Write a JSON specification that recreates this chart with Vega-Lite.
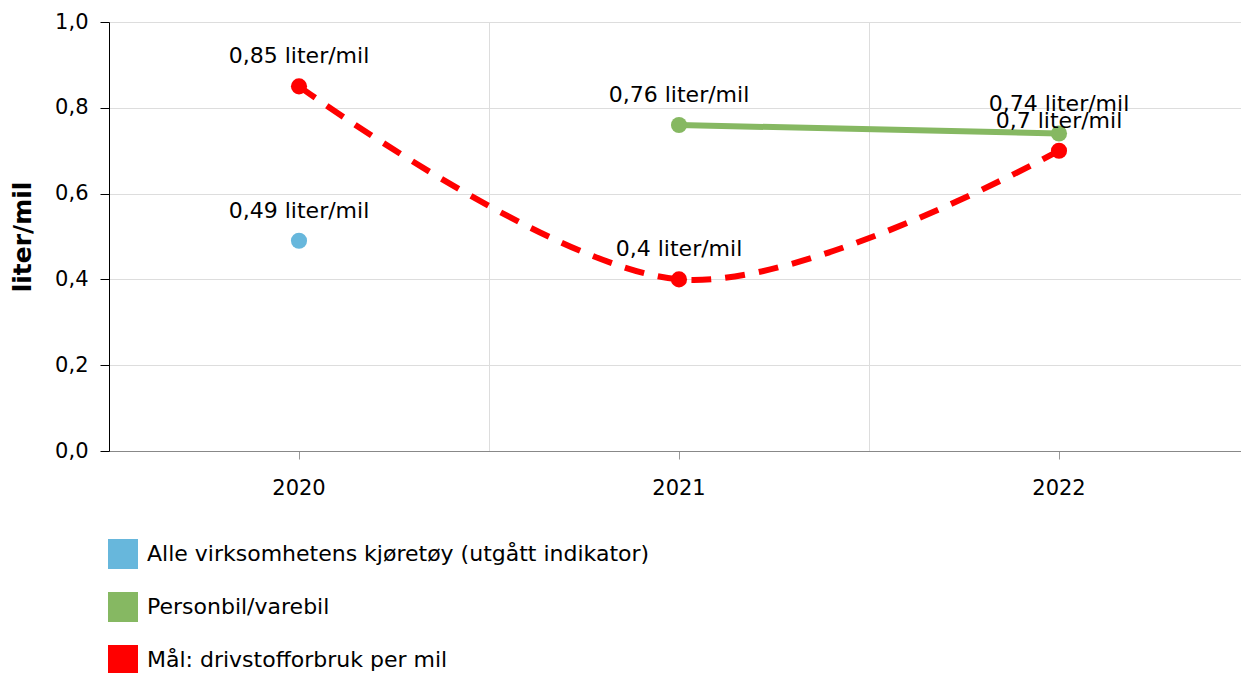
{
  "$schema": "https://vega.github.io/schema/vega-lite/v6.json",
  "width": 1132,
  "height": 429,
  "autosize": "none",
  "padding": {"left": 109, "top": 22, "right": 0, "bottom": 222},
  "background": "white",
  "config": {
    "font": "DejaVu Sans",
    "view": {"stroke": null},
    "locale": {"number": {"decimal": ",", "thousands": "\u00a0", "grouping": [3], "currency": ["", " kr"]}}
  },
  "data": {
    "values": [
      {"serie": "Alle virksomhetens kjøretøy (utgått indikator)", "year": "2020", "value": 0.49, "label": "0,49 liter/mil"},
      {"serie": "Personbil/varebil", "year": "2021", "value": 0.76, "label": "0,76 liter/mil"},
      {"serie": "Personbil/varebil", "year": "2022", "value": 0.74, "label": "0,74 liter/mil"},
      {"serie": "Mål: drivstofforbruk per mil", "year": "2020", "value": 0.85, "label": "0,85 liter/mil"},
      {"serie": "Mål: drivstofforbruk per mil", "year": "2021", "value": 0.4, "label": "0,4 liter/mil"},
      {"serie": "Mål: drivstofforbruk per mil", "year": "2022", "value": 0.7, "label": "0,7 liter/mil"}
    ]
  },
  "resolve": {"axis": {"x": "independent"}},
  "layer": [
    {
      "transform": [{"filter": "datum.serie === 'Mål: drivstofforbruk per mil'"}],
      "mark": {"type": "line", "color": "#ff0000", "strokeWidth": 6, "strokeDash": [20, 14], "interpolate": "cardinal", "tension": 0},
      "encoding": {
        "x": {"field": "year", "type": "ordinal", "scale": {"type": "band", "domain": ["2020", "2021", "2022"], "range": [0, 1140], "paddingInner": 0, "paddingOuter": 0},
          "axis": {"bandPosition": 0, "grid": true, "gridColor": "#dddddd", "ticks": false, "labels": false, "domain": false, "title": null, "orient": "bottom"}},
        "y": {"field": "value", "type": "quantitative", "scale": {"domain": [0, 1], "nice": false},
          "axis": {"values": [0, 0.2, 0.4, 0.6, 0.8, 1.0], "format": ".1f", "title": "liter/mil", "titleFontSize": 25, "titleFontWeight": "bold", "titleColor": "#000", "titlePadding": 19,
            "labelFontSize": 21, "labelColor": "#000", "labelPadding": 12, "tickSize": 9, "tickColor": "#000", "domainColor": "#000", "gridColor": "#dddddd", "grid": true}}
      }
    },
    {
      "transform": [{"filter": "datum.serie === 'Personbil/varebil'"}],
      "mark": {"type": "line", "color": "#86b862", "strokeWidth": 6},
      "encoding": {
        "x": {"field": "year", "type": "ordinal", "axis": null},
        "y": {"field": "value", "type": "quantitative"}
      }
    },
    {
      "mark": {"type": "circle", "size": 260, "opacity": 1},
      "encoding": {
        "x": {"field": "year", "type": "ordinal", "axis": null},
        "y": {"field": "value", "type": "quantitative"},
        "color": {"field": "serie", "type": "nominal",
          "scale": {"domain": ["Alle virksomhetens kjøretøy (utgått indikator)", "Personbil/varebil", "Mål: drivstofforbruk per mil"], "range": ["#67b7dc", "#86b862", "#ff0000"]},
          "legend": {"title": null, "orient": "none", "legendX": -1, "legendY": 517, "direction": "vertical", "symbolType": "square", "symbolSize": 900, "symbolStrokeWidth": 0, "symbolOpacity": 1,
            "labelFontSize": 22, "labelColor": "#000", "labelOffset": 9, "rowPadding": 23, "padding": 0, "labelLimit": 800}}
      }
    },
    {
      "mark": {"type": "text", "fontSize": 22, "color": "#000", "dy": -30, "baseline": "middle"},
      "encoding": {
        "x": {"field": "year", "type": "ordinal",
          "axis": {"title": null, "orient": "bottom", "grid": false, "labelAngle": 0, "labelFontSize": 21, "labelColor": "#000", "labelPadding": 18, "tickSize": 8, "tickColor": "#999", "domainColor": "#888"}},
        "y": {"field": "value", "type": "quantitative"},
        "text": {"field": "label"}
      }
    }
  ]
}
